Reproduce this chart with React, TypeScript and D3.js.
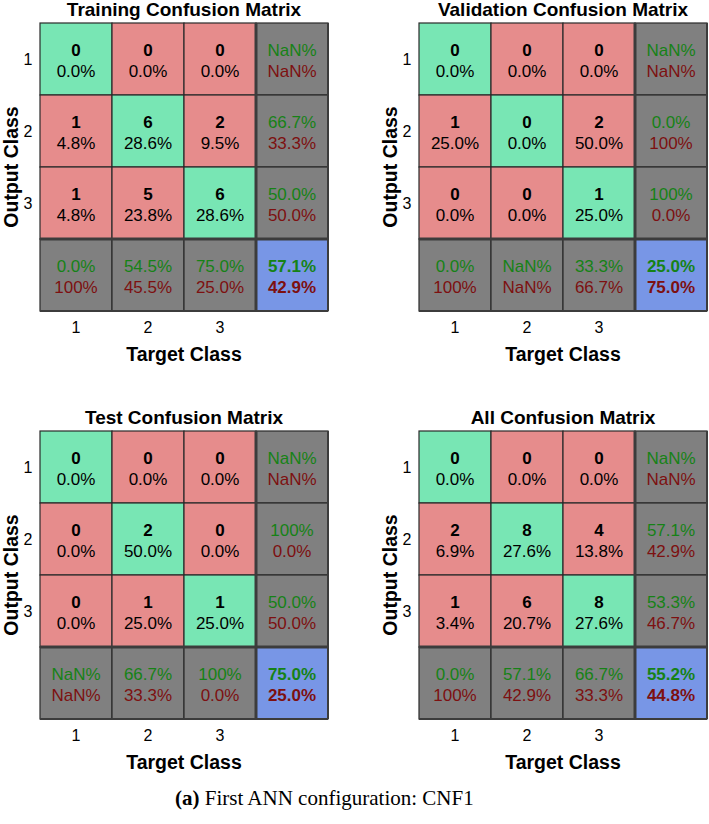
import * as d3 from "d3";

const classes = ["1", "2", "3"];

const titles = [
  "Training Confusion Matrix",
  "Validation Confusion Matrix",
  "Test Confusion Matrix",
  "All Confusion Matrix",
];

// counts[row = output][col = target]
const trainCounts = [[0, 0, 0], [1, 6, 2], [1, 5, 6]];
const trainPct = [["0.0%", "0.0%", "0.0%"], ["4.8%", "28.6%", "9.5%"], ["4.8%", "23.8%", "28.6%"]];
const trainRow = [["NaN%", "NaN%"], ["66.7%", "33.3%"], ["50.0%", "50.0%"]];
const trainCol = [["0.0%", "100%"], ["54.5%", "45.5%"], ["75.0%", "25.0%"]];
const trainTotal = ["57.1%", "42.9%"];

const valCounts = [[0, 0, 0], [1, 0, 2], [0, 0, 1]];
const valPct = [["0.0%", "0.0%", "0.0%"], ["25.0%", "0.0%", "50.0%"], ["0.0%", "0.0%", "25.0%"]];
const valRow = [["NaN%", "NaN%"], ["0.0%", "100%"], ["100%", "0.0%"]];
const valCol = [["0.0%", "100%"], ["NaN%", "NaN%"], ["33.3%", "66.7%"]];
const valTotal = ["25.0%", "75.0%"];

const testCounts = [[0, 0, 0], [0, 2, 0], [0, 1, 1]];
const testPct = [["0.0%", "0.0%", "0.0%"], ["0.0%", "50.0%", "0.0%"], ["0.0%", "25.0%", "25.0%"]];
const testRow = [["NaN%", "NaN%"], ["100%", "0.0%"], ["50.0%", "50.0%"]];
const testCol = [["NaN%", "NaN%"], ["66.7%", "33.3%"], ["100%", "0.0%"]];
const testTotal = ["75.0%", "25.0%"];

const allCounts = [[0, 0, 0], [2, 8, 4], [1, 6, 8]];
const allPct = [["0.0%", "0.0%", "0.0%"], ["6.9%", "27.6%", "13.8%"], ["3.4%", "20.7%", "27.6%"]];
const allRow = [["NaN%", "NaN%"], ["57.1%", "42.9%"], ["53.3%", "46.7%"]];
const allCol = [["0.0%", "100%"], ["57.1%", "42.9%"], ["66.7%", "33.3%"]];
const allTotal = ["55.2%", "44.8%"];

const panels = [
  { counts: trainCounts, pct: trainPct, row: trainRow, col: trainCol, total: trainTotal },
  { counts: valCounts, pct: valPct, row: valRow, col: valCol, total: valTotal },
  { counts: testCounts, pct: testPct, row: testRow, col: testCol, total: testTotal },
  { counts: allCounts, pct: allPct, row: allRow, col: allCol, total: allTotal },
];

const W = 709;
const H = 824;
const CELL = 72;
const origins = [
  [40, 23],
  [419, 23],
  [40, 431],
  [419, 431],
];

const GREEN = "#78e6b4";
const RED = "#e68c8c";
const GRAY = "#808080";
const BLUE = "#7896e6";
const TXT_GREEN = "#168216";
const TXT_RED = "#7d1010";
const FONT = "Liberation Sans, Arial, sans-serif";
const CELL_FS = 17;

function Matrix({ idx }: { idx: number }) {
  const p = panels[idx];
  const [ox, oy] = origins[idx];
  const keys = [...classes, "sum"];
  const x = d3.scaleBand<string>().domain(keys).range([0, CELL * 4]);
  const y = d3.scaleBand<string>().domain(keys).range([0, CELL * 4]);
  const bw = x.bandwidth();
  const n = classes.length;

  const cells: JSX.Element[] = [];
  keys.forEach((rk, r) => {
    keys.forEach((ck, c) => {
      let fill = GRAY;
      if (r < n && c < n) fill = r === c ? GREEN : RED;
      if (r === n && c === n) fill = BLUE;
      const cx = x(ck)! + bw / 2;
      const cy = y(rk)! + bw / 2;
      let top: string | number;
      let bottom: string;
      let c1 = "#000";
      let c2 = "#000";
      let w1 = "bold";
      let w2 = "normal";
      if (r < n && c < n) {
        top = p.counts[r][c];
        bottom = p.pct[r][c];
      } else {
        const pair = r === n && c === n ? p.total : r === n ? p.col[c] : p.row[r];
        top = pair[0];
        bottom = pair[1];
        c1 = TXT_GREEN;
        c2 = TXT_RED;
        w1 = w2 = r === n && c === n ? "bold" : "normal";
      }
      cells.push(
        <g key={`${r}-${c}`}>
          <rect x={x(ck)} y={y(rk)} width={bw} height={bw} fill={fill} stroke="#2a2a2a" strokeWidth={1.2} />
          <text x={cx} y={cy - 3} textAnchor="middle" fontWeight={w1} fontSize={CELL_FS} fill={c1}>
            {top}
          </text>
          <text x={cx} y={cy + 18} textAnchor="middle" fontWeight={w2} fontSize={CELL_FS} fill={c2}>
            {bottom}
          </text>
        </g>
      );
    });
  });

  const sep = x("sum")!;
  const full = CELL * 4;

  return (
    <g transform={`translate(${ox},${oy})`} fontFamily={FONT}>
      <text x={full / 2} y={-7} textAnchor="middle" fontWeight="bold" fontSize={19} fill="#000">
        {titles[idx]}
      </text>
      {cells}
      {/* heavy separators around summary row/column */}
      <line x1={sep} x2={sep} y1={0} y2={full} stroke="#3c3c3c" strokeWidth={3} />
      <line x1={0} x2={full} y1={sep} y2={sep} stroke="#3c3c3c" strokeWidth={3} />
      <line x1={full} x2={full} y1={0} y2={full} stroke="#3c3c3c" strokeWidth={2} />
      <line x1={0} x2={full} y1={full} y2={full} stroke="#3c3c3c" strokeWidth={2} />
      {classes.map((k) => (
        <text key={`r${k}`} x={-12} y={y(k)! + bw / 2 + 6} textAnchor="middle" fontSize={16} fill="#000">
          {k}
        </text>
      ))}
      {classes.map((k) => (
        <text key={`c${k}`} x={x(k)! + bw / 2} y={full + 22} textAnchor="middle" fontSize={16} fill="#000">
          {k}
        </text>
      ))}
      <text x={full / 2} y={full + 50} textAnchor="middle" fontWeight="bold" fontSize={19.5} fill="#000">
        Target Class
      </text>
      <text
        transform={`translate(${-22.5},${full / 2}) rotate(-90)`}
        textAnchor="middle"
        fontWeight="bold"
        fontSize={19.5}
        fill="#000"
      >
        Output Class
      </text>
    </g>
  );
}

export default function App() {
  return (
    <svg
      width={W}
      height={H}
      viewBox={`0 0 ${W} ${H}`}
      style={{ position: "absolute", left: 0, top: 0, background: "#fff" }}
    >
      <rect width={W} height={H} fill="#fff" />
      {panels.map((_, i) => (
        <Matrix key={i} idx={i} />
      ))}
      <text x={175} y={805} fontFamily="Liberation Serif, Times New Roman, serif" fontSize={21} fill="#000">
        <tspan fontWeight="bold">(a)</tspan> First ANN configuration: CNF1
      </text>
    </svg>
  );
}
